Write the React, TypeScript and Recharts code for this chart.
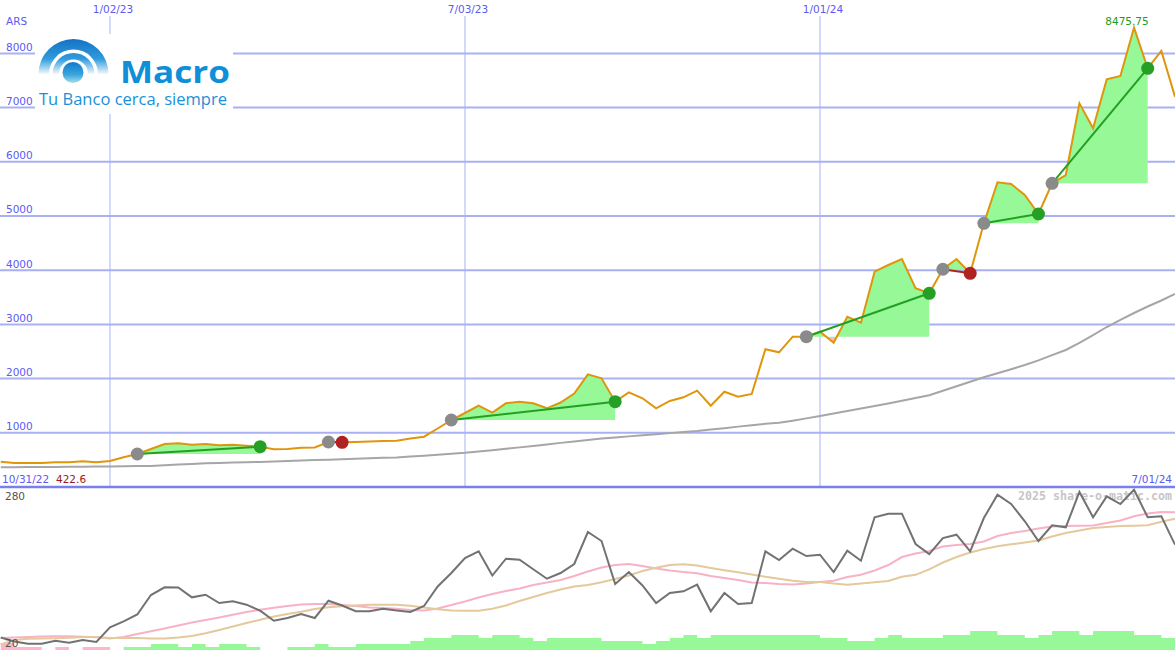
import React from 'react';
import {
  ComposedChart,
  Line,
  Area,
  XAxis,
  YAxis,
  CartesianGrid,
  ReferenceLine,
  ReferenceDot,
} from 'recharts';

// ---------- DATA (weekly, week 1 = first Monday after 10/31/22) ----------
const price = [
  467, 443, 443, 443, 456, 456, 474, 456, 480, 548,
  609, 701, 793, 806, 780, 793, 769, 780, 762, 744,
  696, 701, 725, 729, 830, 825, 830, 839, 849, 854,
  895, 928, 1079, 1236, 1365, 1500, 1371, 1544, 1574, 1544,
  1452, 1559, 1725, 2079, 2006, 1574, 1747, 1637, 1452, 1587,
  1655, 1777, 1500, 1758, 1666, 1716, 2541, 2485, 2773, 2773,
  2865, 2662, 3142, 3031, 3972, 4096, 4207, 3666, 3574, 4017,
  4207, 3943, 4865, 5622, 5590, 5387, 5037, 5603, 5756, 7079,
  6618, 7522, 7583, 8475.75, 7725, 8044, 7201,
];

const movingAvg = [
  363, 365, 367, 369, 371, 373, 375, 378, 380, 382,
  386, 389, 402, 413, 424, 437, 445, 452, 458, 463,
  472, 480, 489, 496, 504, 511, 520, 530, 539, 546,
  561, 577, 596, 613, 631, 655, 679, 705, 731, 756,
  786, 814, 841, 867, 893, 913, 934, 954, 974, 994,
  1015, 1035, 1061, 1085, 1114, 1140, 1166, 1184, 1223, 1266,
  1310, 1356, 1402, 1448, 1494, 1542, 1590, 1642, 1694, 1775,
  1860, 1941, 2024, 2100, 2173, 2251, 2336, 2432, 2528, 2657,
  2801, 2952, 3085, 3210, 3330, 3441, 3561,
];

const oscillator = [
  28.9, 21.8, 17.9, 17.9, 23.2, 19.6, 24.4, 20.9, 47, 57.6,
  69.7, 104.3, 118, 117.6, 100.2, 104.8, 90.1, 93.1, 87.1, 76.4,
  58.7, 63.5, 70.6, 63.5, 94.2, 85.7, 75.4, 75.4, 80, 76.8,
  74.1, 84.8, 119.4, 143.3, 170, 181.8, 138.9, 168.7, 166.8, 150,
  133.2, 143.3, 159.3, 216.1, 200.1, 123.8, 145.1, 121.2, 90.1, 107.8,
  110.9, 122.6, 75.4, 107.8, 88.3, 90.1, 181.8, 166.4, 186.5, 173.5,
  175.8, 145.1, 182.9, 165.2, 242.2, 248.6, 248.6, 194.8, 177, 205.4,
  211.3, 181.8, 240.9, 282.3, 265.8, 235.1, 200.1, 228, 224.4, 287.1,
  242.2, 279.4, 265.8, 291.2, 242.2, 244, 193.6,
];

const oscFast = [
  28, 28.9, 29.8, 30.6, 31, 31, 30.1, 29.2, 27.1, 29.8,
  35.1, 39.9, 44.8, 50.2, 55.5, 59.9, 64.4, 69.3, 74.1, 78.2,
  81.8, 84.8, 87.4, 88.3, 88.3, 86.5, 84.8, 82.1, 81.2, 80,
  77.7, 76.8, 80.3, 86.5, 92.8, 99.9, 106.1, 111.4, 115.8, 122,
  126.5, 130.9, 138, 146, 153.1, 157.5, 159.3, 155.8, 151.3, 147.8,
  145.1, 143, 138, 134.5, 130.9, 126.5, 125.6, 123.8, 122.9, 124.7,
  127.4, 129.7, 136.2, 140.3, 147.8, 157.5, 171.7, 177.9, 182.4, 190.4,
  193, 194.8, 199.2, 209, 214.3, 217.9, 222.3, 225.9, 226.7, 227.3,
  227.6, 232.1, 236.5, 244, 248.9, 251.6, 251.1,
];

const oscSlow = [
  16.5, 24.4, 26.7, 27.1, 27.6, 28.3, 29.8, 29.8, 28, 28,
  28, 27.1, 27.1, 28.9, 31.5, 36.3, 42.2, 48.4, 54.6, 60.5,
  66.1, 70.6, 74.5, 79.4, 82.4, 84.2, 85.7, 87.1, 87.1, 86.9,
  85.3, 82.1, 79.1, 76.8, 76.4, 76.4, 80, 85.7, 93.6, 100.7,
  107.8, 114.1, 119.4, 122, 126.8, 132.7, 138.9, 146.9, 152.7, 157.5,
  158.8, 156.8, 152.2, 148.1, 144.8, 140.7, 136.6, 133.2, 129.5, 127.4,
  127.4, 124.7, 122.6, 124.7, 127, 129.1, 136.8, 140.1, 149.9, 162,
  171.7, 179.7, 185.9, 190.7, 194.3, 197.5, 201, 208.1, 214.3, 218.8,
  223.2, 225, 226.7, 227.3, 228.2, 234.4, 239.7,
];

const volumeUp = [
  0, 0, 0, 0, 0, 0, 0, 0, 0,
  3, 3, 6, 6, 3, 6, 3, 6, 6, 3,
  0, 0, 3, 3, 6, 3, 3, 6, 6, 6,
  6, 9, 12, 12, 15, 15, 12, 15, 15, 12,
  9, 12, 12, 12, 12, 9, 9, 9, 6, 9,
  12, 15, 12, 15, 15, 15, 15, 15, 15, 15,
  15, 12, 12, 9, 9, 12, 15, 12, 12, 12,
  15, 15, 19, 19, 15, 15, 12, 15, 19, 19,
  15, 19, 19, 19, 15, 15, 12, 12,
];

const volumeDown = [
  7, 3, 3, 0, 3, 0, 3, 3, 0,
  0, 0, 0, 0, 0, 0, 0, 0, 0, 0,
  0, 0, 0, 0, 0, 0, 0, 0, 0, 0,
  0, 0, 0, 0, 0, 0, 0, 0, 0, 0,
  0, 0, 0, 0, 0, 0, 0, 0, 0, 0,
  0, 0, 0, 0, 0, 0, 0, 0, 0, 0,
  0, 0, 0, 0, 0, 0, 0, 0, 0, 0,
  0, 0, 0, 0, 0, 0, 0, 0, 0, 0,
  0, 0, 0, 0, 0, 0, 0, 0,
];

// trades: entry week / exit week
const trades = [
  { entry: 11, exit: 20 },
  { entry: 25, exit: 26 },
  { entry: 34, exit: 46 },
  { entry: 60, exit: 69 },
  { entry: 70, exit: 72 },
  { entry: 73, exit: 77 },
  { entry: 78, exit: 85 },
];

const dateTicks = [9, 35, 61];
const dateTickLabels: Record<number, string> = { 9: '1/02/23', 35: '7/03/23', 61: '1/01/24' };
const priceTicks = [1000, 2000, 3000, 4000, 5000, 6000, 7000, 8000];
const oscTicks = [20, 280];

// ---------- LAYOUT ----------
const W = 1175;
const X_DOMAIN: [number, number] = [0.945, 87];
const PRICE_DOMAIN: [number, number] = [0, 8985];
const OSC_DOMAIN: [number, number] = [6.7, 294.2];
const VOL_DOMAIN: [number, number] = [0, 162];

const BLUE_TXT = '#5b5bf2';
const FONT = 'DejaVu Sans, sans-serif';

const weeks = price.map((_, i) => i + 1);
const tradeInfo = trades.map((t) => {
  const base = price[t.entry - 1];
  const seg = price.slice(t.entry - 1, t.exit);
  const hi = Math.max(base, ...seg);
  const lo = Math.min(base, ...seg);
  const off = hi === lo ? 1 : (hi - base) / (hi - lo);
  return { ...t, base, off, win: price[t.exit - 1] >= base };
});

const rows = weeks.map((w, i) => {
  const r: Record<string, number | null> = {
    week: w,
    price: price[i],
    ma: movingAvg[i],
    osc: oscillator[i],
    fast: oscFast[i],
    slow: oscSlow[i],
    volUp: volumeUp[i],
    volDown: volumeDown[i],
  };
  tradeInfo.forEach((t, k) => {
    r['fill' + k] = w >= t.entry && w <= t.exit ? price[i] : null;
    r['tl' + k] = w === t.entry || w === t.exit ? price[i] : null;
  });
  r.entryMark = tradeInfo.some((t) => t.entry === w) ? price[i] : null;
  r.winMark = tradeInfo.some((t) => t.exit === w && t.win) ? price[i] : null;
  r.lossMark = tradeInfo.some((t) => t.exit === w && !t.win) ? price[i] : null;
  return r;
});

const peakValue = Math.max(...price);
const peakWeek = weeks[price.indexOf(peakValue)];

// ---------- RENDERERS ----------
const PriceTick = (p: any) => (
  <text x={6} y={p.y - 2.5} fontSize={10.5} fontFamily={FONT} fill={BLUE_TXT}>
    {p.payload.value}
  </text>
);

const DateTick = (p: any) => (
  <g>
    <rect x={p.x - 27} y={0} width={56} height={16} fill="#ffffff" />
    <text x={p.x + 3} y={13} textAnchor="middle" fontSize={10.5} fontFamily={FONT} fill={BLUE_TXT}>
      {dateTickLabels[p.payload.value]}
    </text>
  </g>
);

const OscTick = (p: any) => (
  <text x={5} y={p.y + 4} fontSize={10.5} fontFamily={FONT} fill="#555555">
    {p.payload.value}
  </text>
);

const markerDot = (color: string) => (p: any) => {
  if (p.value == null || p.cy == null || Number.isNaN(p.cy)) return <g key={`m${p.index}`} />;
  return <circle key={`m${p.index}`} cx={p.cx} cy={p.cy} r={6.5} fill={color} />;
};

const PeakLabel = (p: any) => {
  const vb = p.viewBox || {};
  const cx = (vb.x ?? 0) + (vb.width ?? 0) / 2;
  return (
    <text x={cx - 7} y={(vb.y ?? 0) - 2} textAnchor="middle" fontSize={10.5} fontFamily={FONT} fill="#229922">
      {String(peakValue)}
    </text>
  );
};

const arch = (cx: number, cy: number, r1: number, r2: number) =>
  `M ${cx - r2} ${cy} A ${r2} ${r2} 0 0 1 ${cx + r2} ${cy} L ${cx + r1} ${cy} A ${r1} ${r1} 0 0 0 ${cx - r1} ${cy} Z`;

export default function App() {
  return (
    <div style={{ position: 'absolute', left: 0, top: 0, width: W, height: 650, background: '#ffffff', overflow: 'hidden' }}>
      {/* watermark (under the lower chart) */}
      <svg width={W} height={650} style={{ position: 'absolute', left: 0, top: 0 }}>
        <text x={1172} y={500} textAnchor="end" fontSize={12.5} fontWeight={700} fontFamily="DejaVu Sans Mono, monospace" fill="#c6c6c6" textLength={154} lengthAdjust="spacingAndGlyphs">
          2025 share-o-matic.com
        </text>
      </svg>

      {/* lower panel */}
      <div style={{ position: 'absolute', left: 0, top: 488 }}>
        <ComposedChart width={W} height={162} data={rows} margin={{ top: 0, right: 0, bottom: 0, left: 0 }}>
          <CartesianGrid yAxisId="osc" horizontal={false} vertical syncWithTicks stroke="#a9b1f8" strokeWidth={1} />
          <XAxis dataKey="week" type="number" domain={X_DOMAIN} allowDataOverflow ticks={dateTicks} interval={0} mirror tick={false} axisLine={false} tickLine={false} />
          <YAxis yAxisId="osc" type="number" domain={OSC_DOMAIN} allowDataOverflow mirror ticks={oscTicks} interval={0} axisLine={false} tickLine={false} tick={OscTick} />
          <YAxis yAxisId="vol" type="number" domain={VOL_DOMAIN} allowDataOverflow hide />
          <Area yAxisId="vol" dataKey="volUp" type="stepAfter" fill="#96f896" fillOpacity={1} stroke="none" isAnimationActive={false} />
          <Area yAxisId="vol" dataKey="volDown" type="stepAfter" fill="#ffb6c6" fillOpacity={1} stroke="none" isAnimationActive={false} />
          <Line yAxisId="osc" dataKey="fast" stroke="#f8b2c6" strokeWidth={2} dot={false} activeDot={false} isAnimationActive={false} />
          <Line yAxisId="osc" dataKey="slow" stroke="#e3c99b" strokeWidth={2} dot={false} activeDot={false} isAnimationActive={false} />
          <Line yAxisId="osc" dataKey="osc" stroke="#727272" strokeWidth={2} dot={false} activeDot={false} isAnimationActive={false} />
        </ComposedChart>
      </div>

      {/* upper panel */}
      <div style={{ position: 'absolute', left: 0, top: 0 }}>
        <ComposedChart width={W} height={490} data={rows} margin={{ top: 0, right: 0, bottom: 3, left: 0 }}>
          <defs>
            {tradeInfo.map((t, k) => (
              <linearGradient key={k} id={`tg${k}`} x1="0" y1="0" x2="0" y2="1">
                <stop offset={t.off} stopColor="#96f896" />
                <stop offset={t.off} stopColor="#ffb6c6" />
              </linearGradient>
            ))}
          </defs>
          <CartesianGrid horizontal vertical={false} syncWithTicks stroke="#a9b1f3" strokeWidth={2} />
          <CartesianGrid horizontal={false} vertical syncWithTicks stroke="#a9b1f8" strokeWidth={1} />
          <XAxis dataKey="week" type="number" domain={X_DOMAIN} allowDataOverflow orientation="top" mirror ticks={dateTicks} interval={0} axisLine={false} tickLine={false} tick={DateTick} />
          <YAxis type="number" domain={PRICE_DOMAIN} allowDataOverflow mirror ticks={priceTicks} interval={0} axisLine={false} tickLine={false} tick={PriceTick} />
          <ReferenceLine y={0} stroke="#7880ee" strokeWidth={2.5} />
          {tradeInfo.map((t, k) => (
            <Area
              key={`fill${k}`}
              dataKey={`fill${k}`}
              type="linear"
              baseValue={t.base}
              stroke="none"
              fill={`url(#tg${k})`}
              fillOpacity={1}
              isAnimationActive={false}
              activeDot={false}
            />
          ))}
          <Line dataKey="ma" stroke="#a6a6a6" strokeWidth={2} dot={false} activeDot={false} isAnimationActive={false} />
          <Line dataKey="price" stroke="#df950c" strokeWidth={2} dot={false} activeDot={false} isAnimationActive={false} />
          {tradeInfo.map((t, k) => (
            <Line
              key={`tl${k}`}
              dataKey={`tl${k}`}
              stroke={t.win ? '#23a023' : '#b02424'}
              strokeWidth={2}
              dot={false}
              activeDot={false}
              connectNulls
              isAnimationActive={false}
            />
          ))}
          <Line dataKey="entryMark" stroke="none" dot={markerDot('#8a8a8a')} activeDot={false} isAnimationActive={false} />
          <Line dataKey="winMark" stroke="none" dot={markerDot('#25a025')} activeDot={false} isAnimationActive={false} />
          <Line dataKey="lossMark" stroke="none" dot={markerDot('#b02222')} activeDot={false} isAnimationActive={false} />
          <ReferenceDot x={peakWeek} y={peakValue} r={1} fill="none" stroke="none" label={PeakLabel} />
        </ComposedChart>
      </div>

      {/* logo and fixed captions */}
      <svg width={W} height={650} style={{ position: 'absolute', left: 0, top: 0, pointerEvents: 'none' }}>
        <defs>
          <linearGradient id="archG" gradientUnits="userSpaceOnUse" x1="0" y1="39" x2="0" y2="75">
            <stop offset="0" stopColor="#1572c6" />
            <stop offset="0.55" stopColor="#2f9bdc" />
            <stop offset="1" stopColor="#ffffff" />
          </linearGradient>
          <linearGradient id="ballG" x1="0" y1="0" x2="0" y2="1">
            <stop offset="0" stopColor="#0f7ccc" />
            <stop offset="0.6" stopColor="#3aa4dc" />
            <stop offset="1" stopColor="#a6dfe6" />
          </linearGradient>
        </defs>
        <rect x={35} y={34} width={198} height={80} fill="#ffffff" />
        <path d={arch(73.5, 74, 24.5, 35)} fill="url(#archG)" />
        <path d={arch(73.5, 74, 14.5, 21)} fill="url(#archG)" />
        <circle cx={73} cy={72.5} r={10.5} fill="url(#ballG)" />
        <text x={120} y={83} fontSize={31} fontWeight={700} fontFamily="Open Sans, sans-serif" fill="#0e8fd8" textLength={110} lengthAdjust="spacingAndGlyphs">
          Macro
        </text>
        <text x={39} y={105} fontSize={16} fontFamily="Open Sans, sans-serif" fill="#1a90d8" textLength={188} lengthAdjust="spacingAndGlyphs">
          Tu Banco cerca, siempre
        </text>

        <text x={6} y={25} fontSize={10.5} fontFamily={FONT} fill={BLUE_TXT}>ARS</text>
        <text x={2} y={483} fontSize={10.5} fontFamily={FONT} fill={BLUE_TXT}>10/31/22</text>
        <text x={56} y={483} fontSize={10.5} fontFamily={FONT} fill="#a01818">422.6</text>
        <text x={1172} y={483} textAnchor="end" fontSize={10.5} fontFamily={FONT} fill={BLUE_TXT}>7/01/24</text>
      </svg>
    </div>
  );
}
